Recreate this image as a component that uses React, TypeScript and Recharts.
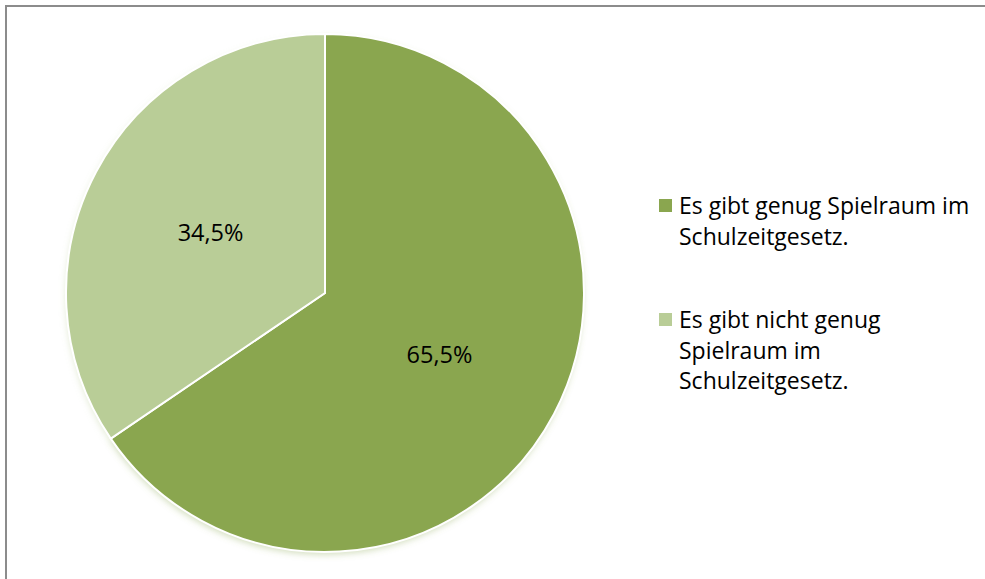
import React from 'react';
import { Legend, Pie, PieChart } from 'recharts';

const categories = [
    'Es gibt genug Spielraum im Schulzeitgesetz.',
    'Es gibt nicht genug Spielraum im Schulzeitgesetz.',
];
const shares = [65.5, 34.5];
const colors = ['#8aa64f', '#b9cd97'];

const data = categories.map((name, i) => ({ name, value: shares[i], fill: colors[i] }));

const RAD = Math.PI / 180;

const renderLabel = (props: any) => {
    const { cx, cy, midAngle, outerRadius, value } = props;
    const r = outerRadius * 0.5;
    const x = cx + r * Math.cos(-midAngle * RAD);
    const y = cy + r * Math.sin(-midAngle * RAD);
    return (
        <text x={x} y={y} textAnchor="middle" dominantBaseline="central"
            fontFamily="'Open Sans', sans-serif" fontSize={23.5} fill="#000">
            {value.toFixed(1).replace('.', ',') + '%'}
        </text>
    );
};

const renderLegend = () => (
    <div style={{ fontFamily: "'Open Sans', sans-serif", fontSize: 23, lineHeight: '30.5px', color: '#000' }}>
        {data.map((d, i) => (
            <div key={d.name} style={{ display: 'flex', alignItems: 'flex-start', marginBottom: i === 0 ? 53 : 0 }}>
                <span style={{ width: 13, height: 13, background: d.fill, marginTop: 9, marginRight: 7, flexShrink: 0 }} />
                <span style={{ width: 300 }}>{d.name}</span>
            </div>
        ))}
    </div>
);

const App: React.FC = () => {
    return (
        <div style={{
            position: 'absolute', left: 5, top: 5, width: 978, height: 572, overflow: 'hidden',
            borderTop: '2px solid #8c8c8c', borderLeft: '2px solid #8c8c8c', background: '#fff',
        }}>
            <PieChart width={978} height={572} margin={{ top: 0, right: 0, bottom: 0, left: 0 }}>
                <defs>
                    <filter id="pieShadow" x="-10%" y="-10%" width="120%" height="120%">
                        <feGaussianBlur stdDeviation="3" />
                    </filter>
                </defs>
                <Pie data={data} dataKey="value" nameKey="name" cx={317} cy={289} outerRadius={259}
                    startAngle={90} endAngle={-270} fill="#7a7a7a" stroke="none" fillOpacity={0.35}
                    filter="url(#pieShadow)" legendType="none" isAnimationActive={false} />
                <Pie data={data} dataKey="value" nameKey="name" cx={318} cy={286} outerRadius={259}
                    startAngle={90} endAngle={-270} stroke="#fff" strokeWidth={2}
                    label={renderLabel} labelLine={false} isAnimationActive={false} />
                <Legend content={renderLegend} wrapperStyle={{ left: 652, top: 183, width: 322 }} />
            </PieChart>
        </div>
    );
};

export default App;
